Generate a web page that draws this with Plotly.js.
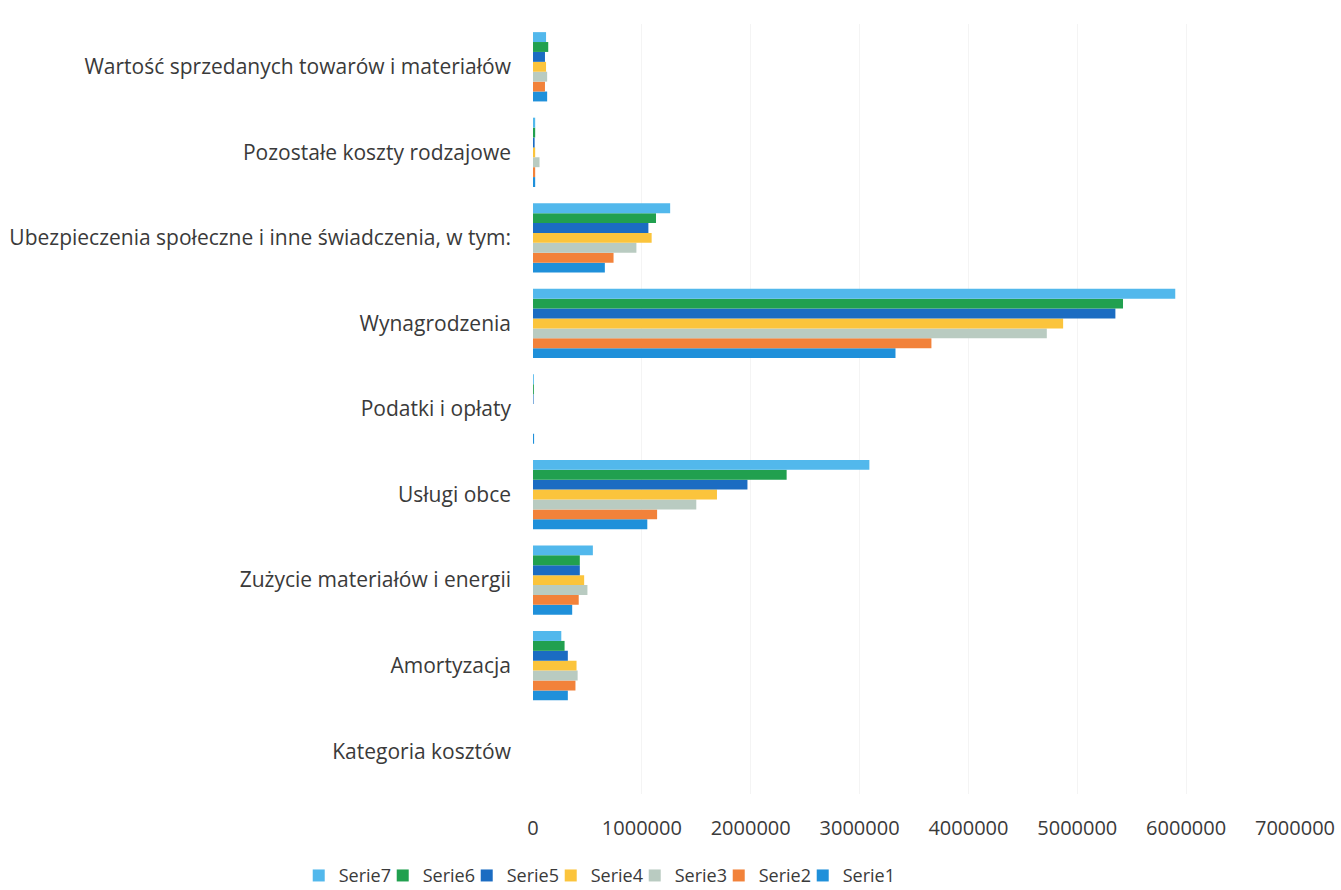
<!DOCTYPE html>
<html>
<head>
<meta charset="utf-8">
<script src="https://cdn.plot.ly/plotly-3.0.1.min.js"></script>
<style>html,body{margin:0;padding:0;background:#fff;}#chart{width:1341px;height:890px;}</style>
</head>
<body>
<div id="chart"></div>
<script>
const categories = [
  "Kategoria kosztów",
  "Amortyzacja",
  "Zużycie materiałów i energii",
  "Usługi obce",
  "Podatki i opłaty",
  "Wynagrodzenia",
  "Ubezpieczenia społeczne i inne świadczenia, w tym:",
  "Pozostałe koszty rodzajowe",
  "Wartość sprzedanych towarów i materiałów"
];
const serie1 = [0, 320000, 360000, 1050000, 10000, 3330000, 660000, 20000, 130000];
const serie2 = [0, 390000, 420000, 1140000, 0, 3660000, 740000, 20000, 110000];
const serie3 = [0, 410000, 500000, 1500000, 0, 4720000, 950000, 60000, 130000];
const serie4 = [0, 400000, 470000, 1690000, 0, 4870000, 1090000, 20000, 120000];
const serie5 = [0, 320000, 430000, 1970000, 5000, 5350000, 1060000, 15000, 110000];
const serie6 = [0, 290000, 430000, 2330000, 8000, 5420000, 1130000, 20000, 140000];
const serie7 = [0, 260000, 550000, 3090000, 8000, 5900000, 1260000, 20000, 120000];
const seriesNames = ["Serie1","Serie2","Serie3","Serie4","Serie5","Serie6","Serie7"];
const seriesValues = [serie1, serie2, serie3, serie4, serie5, serie6, serie7];
const colors = ["#1f90da","#f2823a","#b9cbc1","#fbc43c","#1b6cc2","#21a04f","#52b8ec"];
const xTicks = [0,1000000,2000000,3000000,4000000,5000000,6000000,7000000];

const traces = seriesNames.map((n,i)=>({
  type:'bar', orientation:'h', name:n, y:categories, x:seriesValues[i],
  marker:{color:colors[i]}
}));
const fam = '"Open Sans", "Liberation Sans", sans-serif';
const labelFont = {family:fam, size:21, color:'#3a3a3a'};
const tickFont = {family:fam, size:20, color:'#3a3a3a'};
const legendFont = {family:fam, size:18, color:'#3a3a3a'};
const layout = {
  width:1341, height:890,
  margin:{l:533, r:46, t:24, b:96},
  barmode:'group', bargap:0.19, bargroupgap:0,
  font:labelFont,
  paper_bgcolor:'#fff', plot_bgcolor:'#fff',
  xaxis:{range:[0,7000000], tickvals:xTicks, ticktext:xTicks.map(String),
    showgrid:true, gridcolor:'#f4f4f4', zeroline:false, showline:false,
    ticks:'', ticklabelstandoff:20, tickfont:tickFont, fixedrange:true},
  yaxis:{type:'category', categoryorder:'array', categoryarray:categories,
    showgrid:false, zeroline:false, showline:false, ticks:'', ticklabelstandoff:21,
    tickfont:labelFont, automargin:false},
  legend:{orientation:'h', traceorder:'reversed', xref:'container', yref:'container',
    x:0.442, xanchor:'center', y:0.016, yanchor:'middle', bgcolor:'rgba(0,0,0,0)',
    font:legendFont, itemwidth:30, entrywidth:39, entrywidthmode:'pixels'},
  showlegend:true
};
Plotly.newPlot('chart', traces, layout, {staticPlot:true, displayModeBar:false}).then(gd => {
  gd.querySelectorAll('.legend [clip-path]').forEach(el => el.removeAttribute('clip-path'));
});
</script>
</body>
</html>
